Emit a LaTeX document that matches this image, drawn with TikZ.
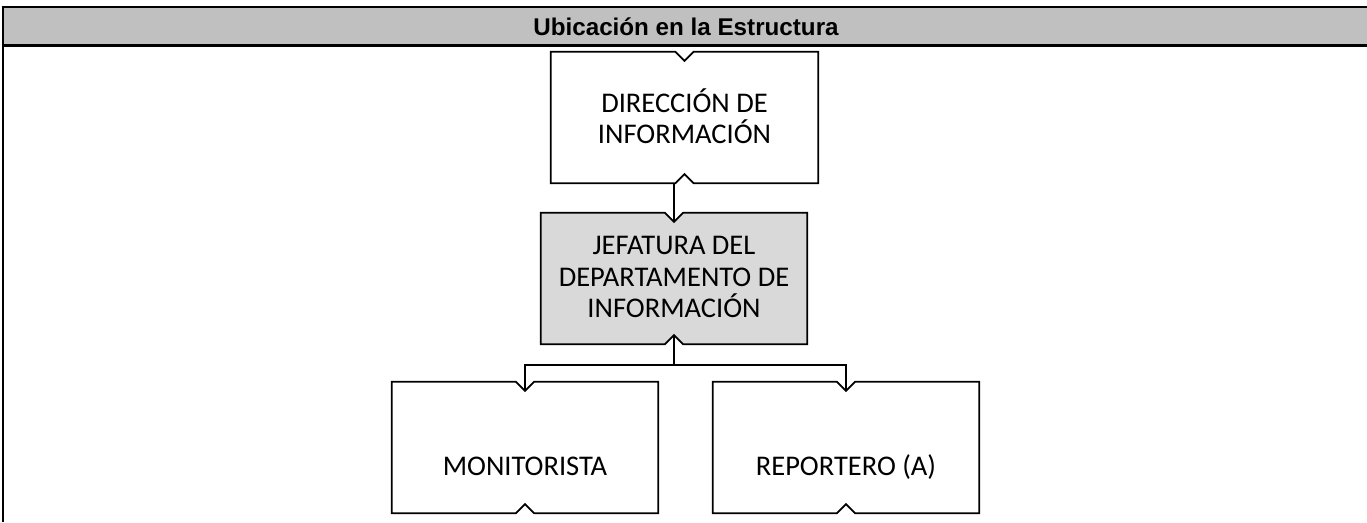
\documentclass[tikz,border=0pt]{standalone}
\usepackage{fontspec}
\setmainfont{Carlito}
\newfontfamily\headfont{Liberation Sans}
\usetikzlibrary{calc}
\definecolor{headgray}{HTML}{C0C0C0}
\definecolor{boxgray}{HTML}{D9D9D9}
\tikzset{
  frameline/.style={line width=2.6pt},
  boxline/.style={line width=1.8pt, line join=miter},
  orgbox/.style={draw=none, minimum width=266pt, minimum height=131pt, inner sep=0pt},
  boxtext/.style={font=\fontsize{28.5pt}{31.5pt}\selectfont, align=center},
  conn/.style={line width=1.8pt},
}
\newcommand\notchbox[2]{%
  \draw[boxline, fill=#2] (#1.north west) -- ($(#1.north)+(-9,0)$) -- ($(#1.north)+(0,9)$) -- ($(#1.north)+(9,0)$) -- (#1.north east) -- (#1.south east) -- ($(#1.south)+(9,0)$) -- ($(#1.south)+(0,-9)$) -- ($(#1.south)+(-9,0)$) -- (#1.south west) -- cycle;}
\begin{document}
\begin{tikzpicture}[x=1pt, y=-1pt]
\useasboundingbox (0,0) rectangle (1367,522);
% header
\fill[headgray] (3,7) rectangle (1367,45);
\draw[frameline] (1.7,7) -- (1367,7);
\draw[frameline] (1.7,45.3) -- (1367,45.3);
\draw[frameline] (3,5.7) -- (3,522);
\node[font=\headfont\bfseries\fontsize{24.2pt}{28pt}\selectfont] (head) at (686,26.5) {Ubicación en la Estructura};
% boxes
\node[orgbox, minimum width=267pt] (dir) at (684.5,117.5) {};
\node[orgbox] (jef) at (674,278.5) {};
\node[orgbox] (mon) at (525,447.5) {};
\node[orgbox] (rep) at (846,447.5) {};
\notchbox{dir}{white}
\notchbox{jef}{boxgray}
\notchbox{mon}{white}
\notchbox{rep}{white}
\node[boxtext] (dirT) at ($(dir.center)+(0,-1.5)$) {DIRECCIÓN DE\\INFORMACIÓN};
\node[boxtext] (jefT) at ($(jef.center)+(0,-1.5)$) {JEFATURA DEL\\DEPARTAMENTO DE\\INFORMACIÓN};
\node[boxtext, anchor=base] (monT) at ($(mon.center)+(0,27.5)$) {MONITORISTA};
\node[boxtext, anchor=base] (repT) at ($(rep.center)+(0,27.5)$) {REPORTERO (A)};
% connectors
\coordinate (busY) at (0,365);
\draw[conn] ($(jef.north)+(0,9)$) -- (jef.north |- dir.south);
\draw[conn] ($(jef.south)+(0,-9)$) -- (jef.south |- busY) -| ($(mon.north)+(0,9)$);
\draw[conn] (jef.south |- busY) -| ($(rep.north)+(0,9)$);
\end{tikzpicture}
\end{document}
